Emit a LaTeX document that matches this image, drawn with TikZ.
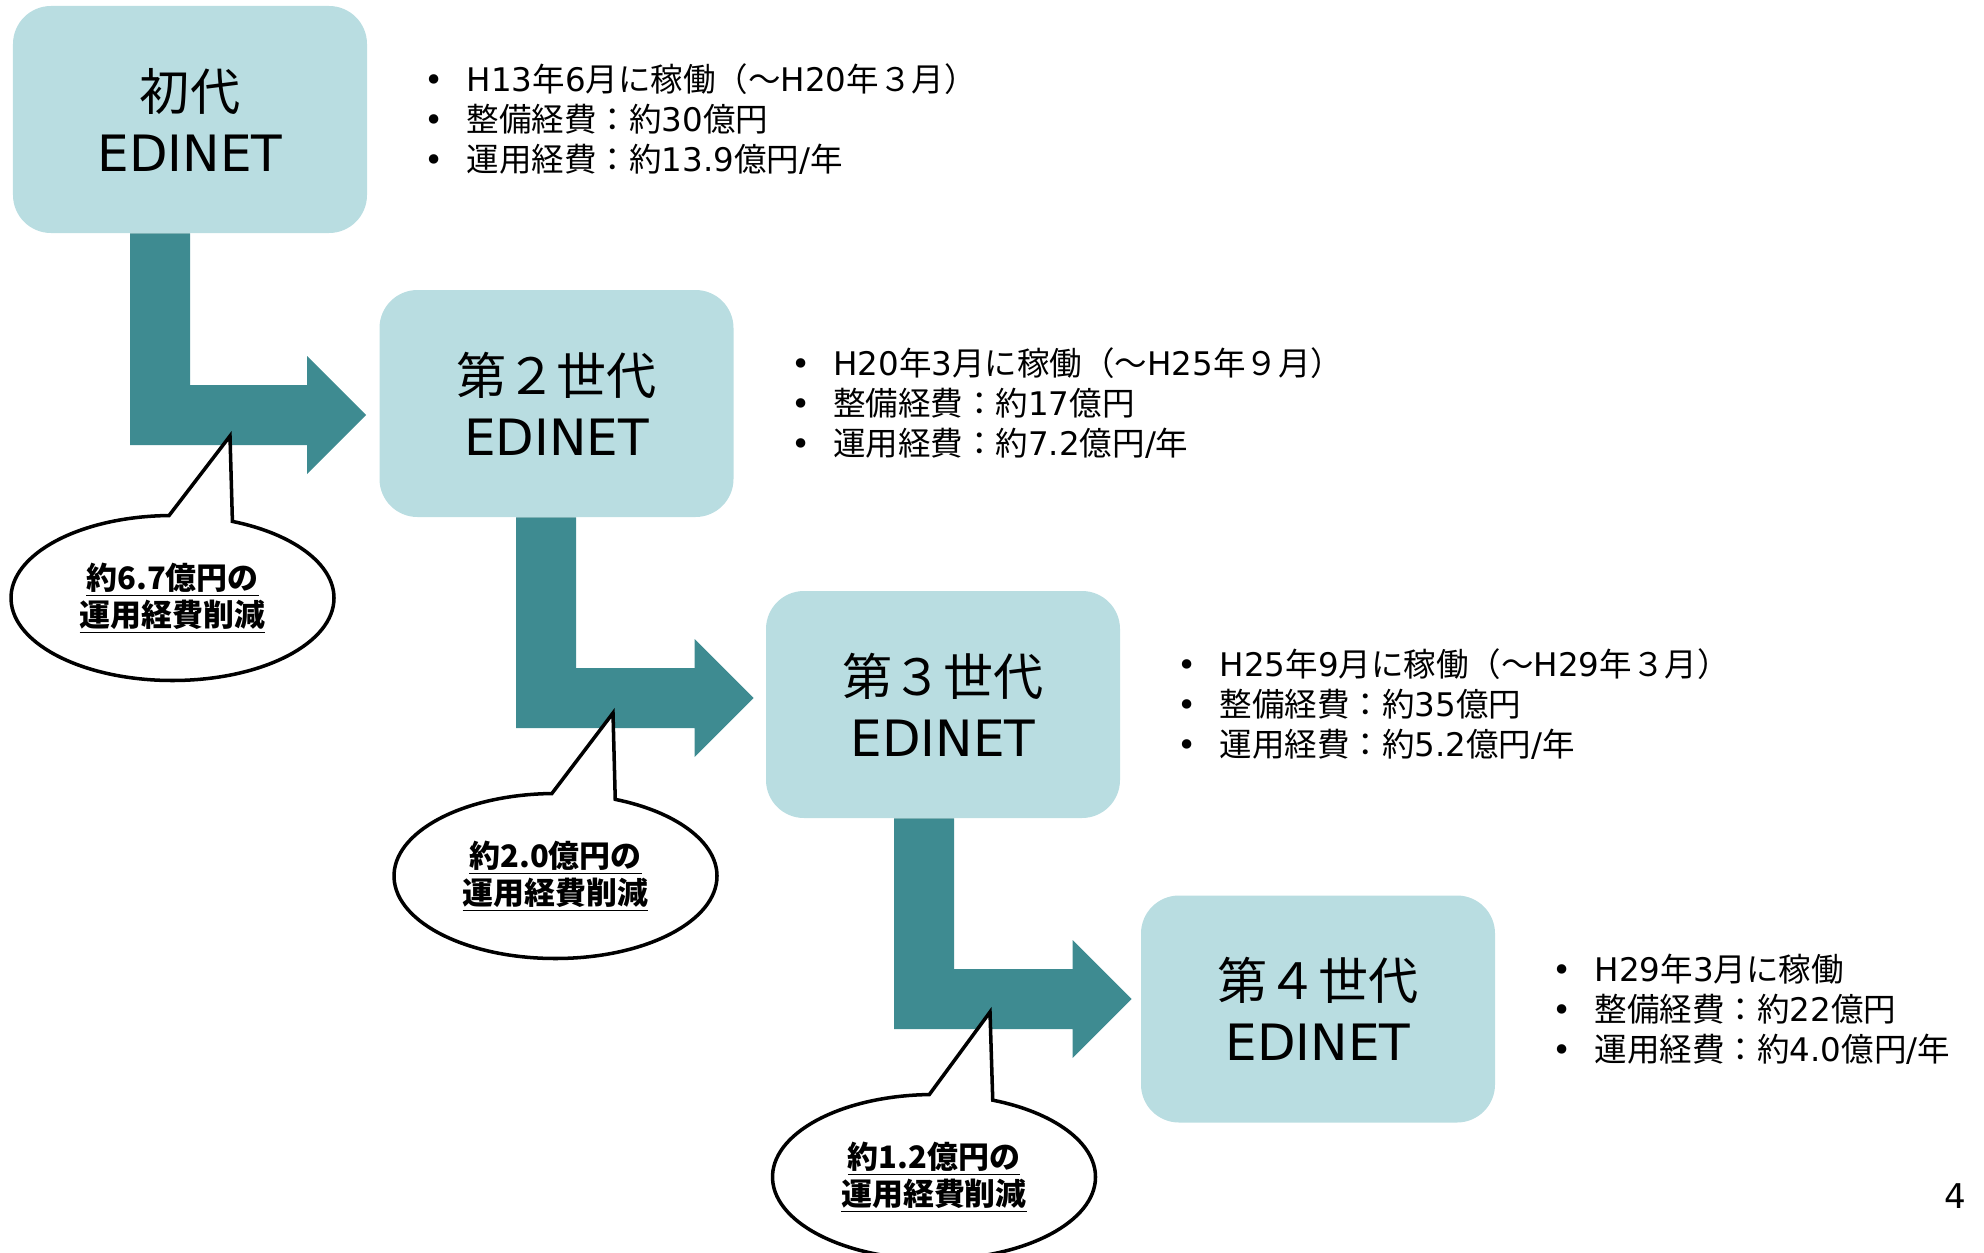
\documentclass[tikz,border=0pt]{standalone}
\usepackage{fontspec}
\setmainfont{Noto Sans CJK JP}
\newfontfamily\wide{DejaVu Sans}
\usetikzlibrary{calc, positioning, shapes.callouts}
\definecolor{genFill}{RGB}{185,221,225}
\definecolor{stepFill}{RGB}{62,139,145}
\tikzset{
    gen/.style={rectangle, rounded corners=7.6mm, fill=genFill, minimum width=70.8mm, minimum height=45.4mm, inner sep=0pt, align=center, font=\fontsize{28.5}{34.7}\selectfont},
    facts/.style={inner sep=0pt, align=left, font=\fontsize{18.5}{22.8}\selectfont},
    saving/.style={ellipse callout, draw, line width=2pt, fill=white, minimum width=64.6mm, minimum height=33mm, inner sep=0pt, callout absolute pointer={#1}, callout pointer arc=23, align=center, font=\bfseries\fontsize{17.6}{21}\selectfont},
}
\newcommand{\vd}[1]{{\wide #1}}
\newcommand{\bul}{\makebox[8.4mm][l]{\wide •}}
\newcommand{\drawStep}[2]{
    % 縦棒から横棒へ、先端は三角
    \fill[stepFill] ($(#1)+(-30,0)$) |- ($(#2)+(-59,30)$) -- ($(#2)+(-59,59)$) -- (#2)
        -- ($(#2)+(-59,-59)$) -- ($(#2)+(-59,-30)$) -| ($(#1)+(30,0)$) -- cycle;
}

\begin{document}
\begin{tikzpicture}[x=0.2mm, y=-0.2mm]
        \useasboundingbox (0,0) rectangle (1984,1253);

        \node[gen] (b1) at (190, 119.5) {初代\\\vd{EDINET}};
        \node[gen] (b2) at (556.5, 403.5) {第２世代\\\vd{EDINET}};
        \node[gen] (b3) at (943, 704.5) {第３世代\\\vd{EDINET}};
        \node[gen] (b4) at (1318, 1009) {第４世代\\\vd{EDINET}};

        \node[facts, right=11.4mm of b1] (f1) {\bul\vd{H13}年\vd{6}月に稼働（～\vd{H20}年３月）\\\bul 整備経費：約\vd{30}億円\\\bul 運用経費：約\vd{13.9}億円\vd{/}年};
        \node[facts, right=11.4mm of b2] (f2) {\bul\vd{H20}年\vd{3}月に稼働（～\vd{H25}年９月）\\\bul 整備経費：約\vd{17}億円\\\bul 運用経費：約\vd{7.2}億円\vd{/}年};
        \node[facts, right=11.4mm of b3] (f3) {\bul\vd{H25}年\vd{9}月に稼働（～\vd{H29}年３月）\\\bul 整備経費：約\vd{35}億円\\\bul 運用経費：約\vd{5.2}億円\vd{/}年};
        \node[facts, right=11.4mm of b4] (f4) {\bul\vd{H29}年\vd{3}月に稼働\\\bul 整備経費：約\vd{22}億円\\\bul 運用経費：約\vd{4.0}億円\vd{/}年};

        \coordinate (s1) at ($(b1.south)+(-30,0)$);
        \coordinate (t1) at ($(b2.west)+(-13,11.5)$);
        \coordinate (s2) at ($(b2.south)+(-10.5,0)$);
        \coordinate (t2) at ($(b3.west)+(-12,-6.5)$);
        \coordinate (s3) at ($(b3.south)+(-19,0)$);
        \coordinate (t3) at ($(b4.west)+(-9,-10)$);
        \drawStep{s1}{t1}
        \drawStep{s2}{t2}
        \drawStep{s3}{t3}

        \node[saving={(230,436)}] (c1) at (172.5, 598) {\underline{約6.7億円の}\\\underline{運用経費削減}};
        \node[saving={(613,713)}] (c2) at (555.5, 876) {\underline{約2.0億円の}\\\underline{運用経費削減}};
        \node[saving={(990,1012)}] (c3) at (934, 1177) {\underline{約1.2億円の}\\\underline{運用経費削減}};

        \node[inner sep=0pt, font=\fontsize{19.4}{20}\selectfont] (pg) at (1955, 1196) {\vd{4}};
\end{tikzpicture}
\end{document}
